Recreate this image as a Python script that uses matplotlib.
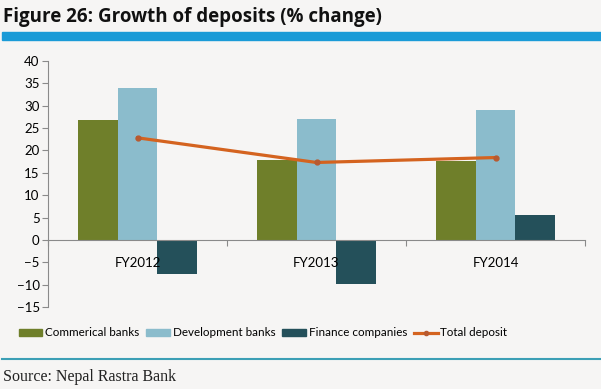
import matplotlib.pyplot as plt
import numpy as np
from matplotlib.lines import Line2D

# data
years = ["FY2012", "FY2013", "FY2014"]
commercial = [26.7, 17.9, 17.6]
development = [33.9, 26.9, 29.1]
finance = [-7.6, -9.7, 5.6]
total = [22.8, 17.3, 18.4]

bg = "#f6f5f4"
plt.rcParams['font.family'] = ['Lato', 'DejaVu Sans']

fig = plt.figure(figsize=(6.01, 3.89), dpi=100, facecolor=bg)
ax = fig.add_axes([48/601, 1-307.3/389, (585-48)/601, (307.3-60.7)/389])
ax.set_facecolor(bg)

x = np.arange(len(years))
w = 0.222
ax.bar(x - w, commercial, w, color="#6f7f2a", label="Commerical banks")
ax.bar(x, development, w, color="#8bbccc", label="Development banks")
ax.bar(x + w, finance, w, color="#24505a", label="Finance companies")
ax.plot(x, total, color="#d4631f", lw=2.3, marker="o", ms=3.5,
        mfc="#b85a30", mec="#b85a30", label="Total deposit")

ax.set_xlim(-0.5, 2.5)
ax.set_ylim(-15, 40)
ax.set_yticks(range(-15, 41, 5))

for s in ["top", "right"]:
    ax.spines[s].set_visible(False)
ax.spines["bottom"].set_position(("data", 0))
ax.spines["bottom"].set_color("#8a8a8a")
ax.spines["left"].set_color("#8a8a8a")

# ticks between categories, labels centred under each category
ax.set_xticks([-0.5, 0.5, 1.5, 2.5])
ax.set_xticklabels([])
ax.set_xticks(x, minor=True)
ax.set_xticklabels(years, minor=True)
ax.tick_params(axis="x", which="major", direction="out", length=4, color="#8a8a8a")
ax.tick_params(axis="x", which="minor", length=0, pad=12, labelsize=9.5)
ax.tick_params(axis="y", direction="out", length=4, color="#8a8a8a", labelsize=9.5, pad=2)

# legend
handles = [plt.Rectangle((0, 0), 1, 1, color="#6f7f2a"),
           plt.Rectangle((0, 0), 1, 1, color="#8bbccc"),
           plt.Rectangle((0, 0), 1, 1, color="#24505a"),
           Line2D([], [], color="#d4631f", lw=2.3, marker="o", ms=3,
                  mfc="#b85a30", mec="#b85a30")]
labels = ["Commerical banks", "Development banks", "Finance companies", "Total deposit"]
fig.legend(handles, labels, loc="center", bbox_to_anchor=(263/601, 1-333/389), ncol=4,
           frameon=False, fontsize=8.4, handlelength=2.05, handleheight=0.6,
           handletextpad=0.25, columnspacing=0.55, borderpad=0.1)

# title, rule lines, source
fig.text(3/601, 1-17/389, "Figure 26: Growth of deposits (% change)", fontsize=13.5,
         fontweight="bold", family=["Open Sans", "DejaVu Sans"],
         va="center", ha="left", color="#111111")
fig.patches.append(plt.Rectangle((2/601, 1-40/389), 1, 8/389, transform=fig.transFigure,
                                 color="#1a9bd7", zorder=1))
fig.add_artist(Line2D([2/601, 1], [1-359/389, 1-359/389], transform=fig.transFigure,
                      color="#3c9fb5", lw=1.5))
fig.text(3/601, 1-377/389, "Source: Nepal Rastra Bank", fontsize=11.5,
         family="Liberation Serif", va="center", ha="left", color="#222222")

fig.savefig("out.png", dpi=100, facecolor=bg)
